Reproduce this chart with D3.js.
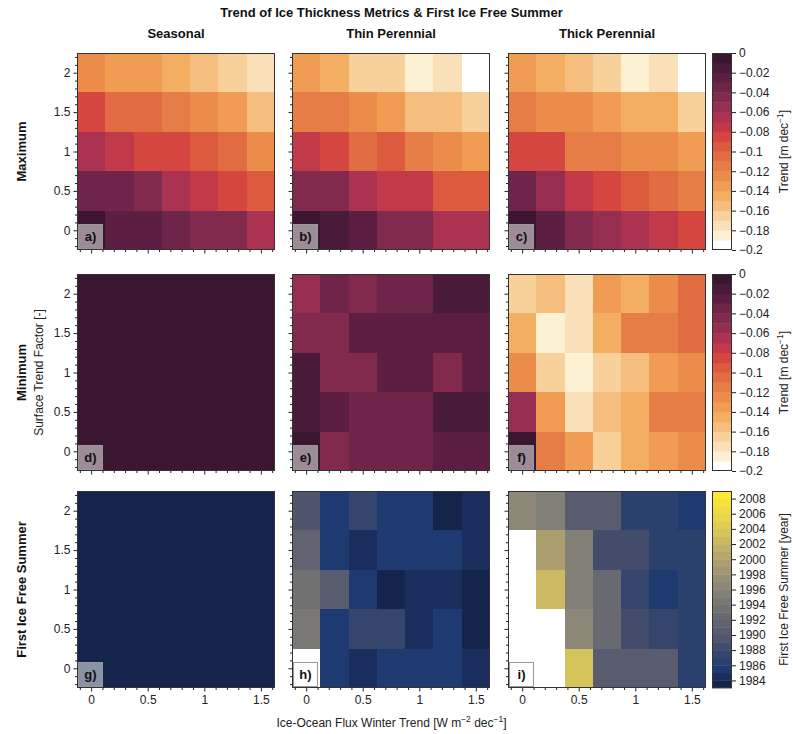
<!DOCTYPE html>
<html>
<head>
<meta charset="utf-8">
<script src="https://cdn.jsdelivr.net/npm/d3@7"></script>
<style>
body { margin: 0; background: #fff; }
svg { font-family: "Liberation Sans", Arial, sans-serif; }
</style>
</head>
<body>
<div id="chart"></div>
<script>
// grid coordinates
const xValues = [0, 0.25, 0.5, 0.75, 1, 1.25, 1.5];
const yValues = [2, 1.5, 1, 0.5, 0]; // rows below go top to bottom
const columnTitles = ["Seasonal", "Thin Perennial", "Thick Perennial"];
const rowTitles = ["Maximum", "Minimum", "First Ice Free Summer"];
const panelLabels = ["a)", "b)", "c)", "d)", "e)", "f)", "g)", "h)", "i)"];

// maximum thickness trend [m dec-1]
const maxSeasonal = [
  [-0.125, -0.135, -0.135, -0.145, -0.155, -0.165, -0.175],
  [-0.085, -0.105, -0.105, -0.115, -0.125, -0.135, -0.155],
  [-0.065, -0.075, -0.085, -0.085, -0.095, -0.105, -0.125],
  [-0.035, -0.035, -0.045, -0.065, -0.075, -0.085, -0.095],
  [-0.005, -0.025, -0.025, -0.035, -0.045, -0.045, -0.065]
];
const maxThin = [
  [-0.135, -0.145, -0.165, -0.165, -0.185, -0.175, -0.195],
  [-0.115, -0.115, -0.125, -0.135, -0.155, -0.155, -0.165],
  [-0.075, -0.085, -0.105, -0.095, -0.115, -0.125, -0.135],
  [-0.045, -0.045, -0.065, -0.075, -0.075, -0.095, -0.095],
  [-0.005, -0.015, -0.025, -0.045, -0.045, -0.065, -0.065]
];
const maxThick = [
  [-0.135, -0.145, -0.155, -0.165, -0.185, -0.175, -0.195],
  [-0.115, -0.125, -0.125, -0.135, -0.145, -0.145, -0.165],
  [-0.085, -0.085, -0.115, -0.115, -0.125, -0.125, -0.135],
  [-0.035, -0.055, -0.075, -0.085, -0.095, -0.105, -0.115],
  [-0.005, -0.025, -0.045, -0.055, -0.065, -0.075, -0.085]
];

// minimum thickness trend [m dec-1]
const minSeasonal = [
  [-0.005, -0.005, -0.005, -0.005, -0.005, -0.005, -0.005],
  [-0.005, -0.005, -0.005, -0.005, -0.005, -0.005, -0.005],
  [-0.005, -0.005, -0.005, -0.005, -0.005, -0.005, -0.005],
  [-0.005, -0.005, -0.005, -0.005, -0.005, -0.005, -0.005],
  [-0.005, -0.005, -0.005, -0.005, -0.005, -0.005, -0.005]
];
const minThin = [
  [-0.055, -0.035, -0.045, -0.035, -0.035, -0.015, -0.015],
  [-0.045, -0.045, -0.025, -0.025, -0.025, -0.025, -0.025],
  [-0.015, -0.045, -0.045, -0.025, -0.025, -0.045, -0.025],
  [-0.015, -0.025, -0.035, -0.035, -0.035, -0.015, -0.015],
  [-0.005, -0.045, -0.035, -0.035, -0.035, -0.025, -0.025]
];
const minThick = [
  [-0.165, -0.155, -0.175, -0.135, -0.145, -0.125, -0.105],
  [-0.145, -0.185, -0.175, -0.145, -0.115, -0.115, -0.105],
  [-0.125, -0.165, -0.185, -0.165, -0.155, -0.135, -0.125],
  [-0.055, -0.135, -0.175, -0.155, -0.145, -0.115, -0.115],
  [-0.005, -0.115, -0.135, -0.165, -0.145, -0.135, -0.125]
];

// first ice free summer [year], null = never ice free
const firstSeasonal = [
  [1983, 1983, 1983, 1983, 1983, 1983, 1983],
  [1983, 1983, 1983, 1983, 1983, 1983, 1983],
  [1983, 1983, 1983, 1983, 1983, 1983, 1983],
  [1983, 1983, 1983, 1983, 1983, 1983, 1983],
  [1983, 1983, 1983, 1983, 1983, 1983, 1983]
];
const firstThin = [
  [1989, 1985, 1987, 1985, 1985, 1983, 1984],
  [1991, 1985, 1984, 1985, 1985, 1985, 1984],
  [1993, 1990, 1985, 1983, 1984, 1984, 1983],
  [1994, 1985, 1987, 1987, 1984, 1985, 1983],
  [null, 1985, 1984, 1985, 1985, 1985, 1984]
];
const firstThick = [
  [1996, 1995, 1990, 1990, 1986, 1986, 1985],
  [null, 1999, 1995, 1988, 1988, 1986, 1986],
  [null, 2002, 1995, 1992, 1987, 1985, 1986],
  [null, null, 1996, 1992, 1988, 1987, 1986],
  [null, null, 2003, 1990, 1990, 1990, 1986]
];

const xTicks = [0, 0.5, 1, 1.5];
const yTicks = [0, 0.5, 1, 1.5, 2];
const trendTicks = [0, -0.02, -0.04, -0.06, -0.08, -0.1, -0.12, -0.14, -0.16, -0.18, -0.2];
const yearTicks = [1984, 1986, 1988, 1990, 1992, 1994, 1996, 1998, 2000, 2002, 2004, 2006, 2008];

const grids = [
  [maxSeasonal, maxThin, maxThick],
  [minSeasonal, minThin, minThick],
  [firstSeasonal, firstThin, firstThick]
];

// layout
const W = 793, H = 734;
const colLefts = [77, 292, 508];
const rowTops = [53, 274, 491];
const panelW = 198, panelH = 197;
const cbX = 712, cbW = 20;
const ink = "#222";

// discrete colour levels, low end first
const trendColors = ["#ffffff", "#fdf1d4", "#fae0b8", "#f8d09a", "#f6be7e", "#f4ae62", "#f09c52",
  "#ec8c4b", "#e67c46", "#e26c42", "#dc5a3e", "#d4463f", "#c2394a", "#ab3251", "#962e52",
  "#822a4e", "#6f2449", "#5c1f43", "#4a1a3b", "#3b1631"];
const yearColors = ["#15244a", "#1a2d5c", "#1e3a70", "#2c406d", "#36456b", "#434c6b", "#4f556d",
  "#585c6e", "#616370", "#696a71", "#717172", "#797874", "#838077", "#8c8777", "#968f76",
  "#a09774", "#ab9f70", "#b6a86c", "#c0b067", "#ccba62", "#d5c35c", "#dfcc54", "#e9d54a",
  "#f0dc42", "#f7e23c", "#fde737"];
const trendColor = d3.scaleQuantize().domain([-0.2, 0]).range(trendColors);
const yearColor = d3.scaleQuantize().domain([1983, 2009]).range(yearColors);

const svg = d3.select("#chart").append("svg")
  .attr("width", W)
  .attr("height", H);

function styleAxis(g) {
  g.select(".domain").remove();
  g.selectAll("line").attr("stroke", ink);
  g.selectAll("text").attr("fill", ink).style("font-size", "12px")
    .style("font-family", "'Liberation Sans', Arial, sans-serif");
}

const minorX = d3.range(-1, 17).map(d => d / 10).filter(d => !xTicks.includes(d));
const minorY = d3.range(-2, 23).map(d => d / 10).filter(d => !yTicks.includes(d));

grids.forEach((row, r) => {
  row.forEach((grid, c) => {
    const left = colLefts[c], top = rowTops[r];
    const x = d3.scaleLinear().domain([-0.125, 1.625]).range([left, left + panelW]);
    const y = d3.scaleLinear().domain([-0.25, 2.25]).range([top + panelH, top]);
    const color = r < 2 ? trendColor : yearColor;
    const cells = grid.flatMap((vals, i) => vals.map((v, j) => ({x: xValues[j], y: yValues[i], v})))
      .filter(d => d.v !== null);

    const g = svg.append("g");
    g.selectAll("rect")
      .data(cells)
      .join("rect")
        .attr("shape-rendering", "crispEdges")
        .attr("x", d => Math.round(x(d.x - 0.125)))
        .attr("y", d => Math.round(y(d.y + 0.25)))
        .attr("width", d => Math.round(x(d.x + 0.125)) - Math.round(x(d.x - 0.125)))
        .attr("height", d => Math.round(y(d.y - 0.25)) - Math.round(y(d.y + 0.25)))
        .attr("fill", d => color(d.v));

    // axes
    const ax = g.append("g").attr("transform", `translate(0,${top + panelH})`)
      .call(d3.axisBottom(x).tickValues(xTicks).tickSize(3.5).tickPadding(4)
        .tickFormat(r === 2 ? d3.format("") : ""));
    styleAxis(ax);
    const axm = g.append("g").attr("transform", `translate(0,${top + panelH})`)
      .call(d3.axisBottom(x).tickValues(minorX).tickSize(2).tickFormat(""));
    styleAxis(axm);
    const ay = g.append("g").attr("transform", `translate(${left},0)`)
      .call(d3.axisLeft(y).tickValues(yTicks).tickSize(3.5).tickPadding(3)
        .tickFormat(c === 0 ? d3.format("") : ""));
    styleAxis(ay);
    const aym = g.append("g").attr("transform", `translate(${left},0)`)
      .call(d3.axisLeft(y).tickValues(minorY).tickSize(2).tickFormat(""));
    styleAxis(aym);

    // frame
    g.append("rect")
      .attr("x", left + 0.5).attr("y", top + 0.5)
      .attr("width", panelW - 1).attr("height", panelH - 1)
      .attr("fill", "none").attr("stroke", "#333").attr("stroke-width", 1);

    // panel label box
    g.append("rect")
      .attr("x", left + 1.5).attr("y", top + panelH - 25.5)
      .attr("width", 24).attr("height", 24)
      .attr("fill", "#fff").attr("fill-opacity", 0.5)
      .attr("stroke", "#999").attr("stroke-width", 1);
    g.append("text")
      .attr("x", left + 13.5).attr("y", top + panelH - 9)
      .attr("text-anchor", "middle")
      .style("font-size", "13px").style("font-weight", "bold")
      .attr("fill", "#111")
      .text(panelLabels[r * 3 + c]);
  });
});

// colorbars
function colorbar(top, scale, domain, ticks, label) {
  const y = d3.scaleLinear().domain(domain).range([top + panelH, top]);
  const g = svg.append("g");
  g.selectAll("rect")
    .data(scale.range())
    .join("rect")
      .attr("x", cbX)
      .attr("y", d => y(scale.invertExtent(d)[1]))
      .attr("width", cbW)
      .attr("height", d => y(scale.invertExtent(d)[0]) - y(scale.invertExtent(d)[1]) + 0.4)
      .attr("fill", d => d);
  const ax = g.append("g").attr("transform", `translate(${cbX + cbW},0)`)
    .call(d3.axisRight(y).tickValues(ticks).tickSize(4).tickPadding(3).tickFormat(d3.format("")));
  styleAxis(ax);
  g.append("rect")
    .attr("x", cbX + 0.5).attr("y", top + 0.5)
    .attr("width", cbW - 1).attr("height", panelH - 1)
    .attr("fill", "none").attr("stroke", "#333");
  const t = g.append("text")
    .attr("transform", `translate(784,${top + panelH / 2}) rotate(-90)`)
    .attr("text-anchor", "middle").attr("dy", "0.35em")
    .style("font-size", "12px").attr("fill", ink);
  label(t);
}

const trendLabel = t => {
  t.append("tspan").text("Trend [m dec");
  t.append("tspan").attr("dy", -5).style("font-size", "8.5px").text("\u22121");
  t.append("tspan").attr("dy", 5).text("]");
};
colorbar(rowTops[0], trendColor, [-0.2, 0], trendTicks, trendLabel);
colorbar(rowTops[1], trendColor, [-0.2, 0], trendTicks, trendLabel);
colorbar(rowTops[2], yearColor, [1983, 2009], yearTicks, t => t.text("First Ice Free Summer [year]"));

// titles
svg.append("text")
  .attr("x", (colLefts[0] + colLefts[2] + panelW) / 2).attr("y", 17)
  .attr("text-anchor", "middle")
  .style("font-size", "13px").style("font-weight", "bold").attr("fill", "#111")
  .text("Trend of Ice Thickness Metrics & First Ice Free Summer");

svg.selectAll("text.coltitle")
  .data(columnTitles)
  .join("text")
    .attr("class", "coltitle")
    .attr("x", (d, i) => colLefts[i] + panelW / 2).attr("y", 38)
    .attr("text-anchor", "middle")
    .style("font-size", "13px").style("font-weight", "bold").attr("fill", "#111")
    .text(d => d);

svg.selectAll("text.rowtitle")
  .data(rowTitles)
  .join("text")
    .attr("class", "rowtitle")
    .attr("transform", (d, i) => `translate(21,${rowTops[i] + panelH / 2}) rotate(-90)`)
    .attr("text-anchor", "middle").attr("dy", "0.35em")
    .style("font-size", "13px").style("font-weight", "bold").attr("fill", "#111")
    .text(d => d);

svg.append("text")
  .attr("transform", `translate(39,${rowTops[1] + panelH / 2}) rotate(-90)`)
  .attr("text-anchor", "middle").attr("dy", "0.35em")
  .style("font-size", "12px").attr("fill", ink)
  .text("Surface Trend Factor [-]");

const xl = svg.append("text")
  .attr("x", (colLefts[0] + colLefts[2] + panelW) / 2).attr("y", 727)
  .attr("text-anchor", "middle")
  .style("font-size", "12px").attr("fill", ink);
xl.append("tspan").text("Ice-Ocean Flux Winter Trend [W m");
xl.append("tspan").attr("dy", -5).style("font-size", "8.5px").text("\u22122");
xl.append("tspan").attr("dy", 5).text(" dec");
xl.append("tspan").attr("dy", -5).style("font-size", "8.5px").text("\u22121");
xl.append("tspan").attr("dy", 5).text("]");
</script>
</body>
</html>
